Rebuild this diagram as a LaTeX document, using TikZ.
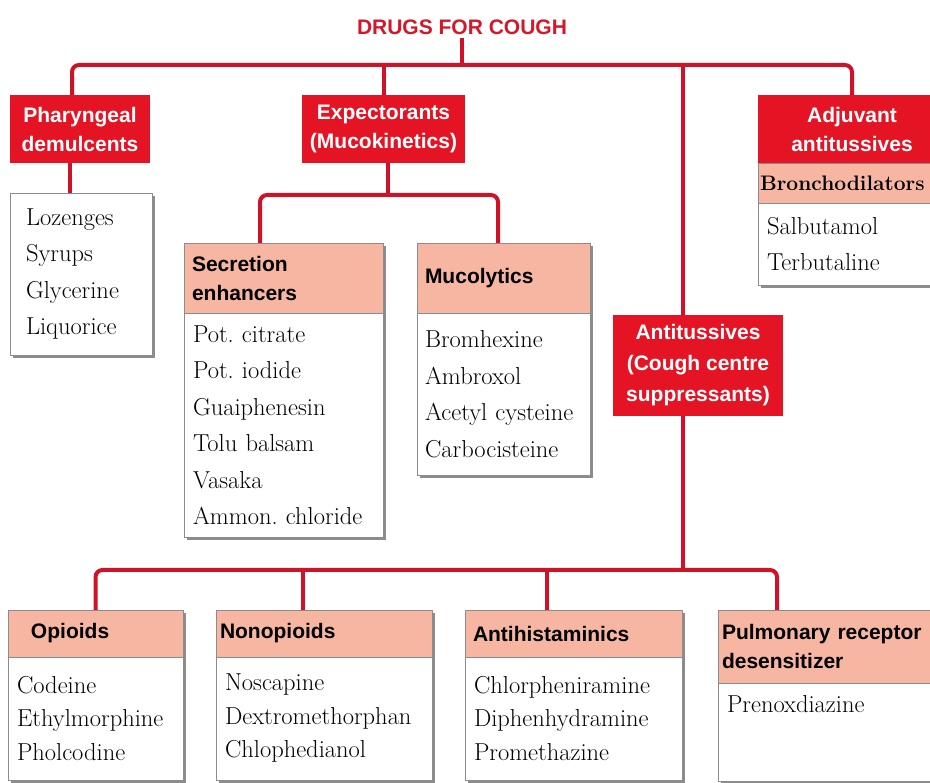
\documentclass[tikz,border=0pt]{standalone}
\usepackage{fontspec}
\setsansfont{Liberation Sans}
\usetikzlibrary{positioning,shadows}
\definecolor{boxred}{RGB}{229,20,36}
\definecolor{linkred}{RGB}{206,18,40}
\definecolor{titlered}{RGB}{212,24,42}
\definecolor{salmon}{RGB}{246,182,162}
\colorlet{rimgray}{black!45}
\newcommand\headfont{\sffamily\bfseries\fontsize{21}{29}\selectfont}
\newcommand\listfont{\rmfamily\frenchspacing\fontsize{24.5}{33.5}\selectfont}
\newcommand\uplistfont{\rmfamily\frenchspacing\fontsize{24.5}{36.5}\selectfont}
\newcommand\titlefont{\sffamily\bfseries\fontsize{21}{25}\selectfont}
\tikzstyle{link}=[line width=4pt,linkred,rounded corners=7pt]
\tikzstyle{redbox}=[anchor=north west,fill=boxred,text=white,font=\headfont,align=center,inner sep=0pt,outer sep=0pt]
\tikzstyle{headbox}=[anchor=north west,fill=salmon,draw=rimgray,line width=0.6pt,font=\headfont,align=left,inner xsep=8pt,inner ysep=0pt,outer sep=0pt,drop shadow={shadow xshift=3pt,shadow yshift=-3pt,fill=black!45,opacity=1}]
\tikzstyle{listbox}=[headbox,fill=white,font=\listfont,inner xsep=9pt]
\tikzstyle{uplist}=[listbox,font=\uplistfont]

\begin{document}
\begin{tikzpicture}[x=1pt,y=-1pt]
  \fill[white] (0,0) rectangle (930,783);
  \useasboundingbox (0,0) rectangle (930,783);
  \coordinate (J1) at (462,65); % TOP BUS
  \coordinate (J2) at (683,65); % ANTITUSSIVE STEM
  \coordinate (J3) at (683,570); % BOTTOM BUS
  \coordinate (J4) at (388,195); % EXPECTORANT BUS
  \coordinate (P1) at (70,180); % DEMULCENT STEM
  \coordinate (S1) at (260,195);
  \coordinate (S2) at (498,195);
  \coordinate (B2) at (303,570);
  \coordinate (B3) at (547,570);
  \coordinate (B4) at (777,570);

  % TITLE
  \node[font=\titlefont,text=titlered] (DC) at (462,27) {DRUGS FOR COUGH};

  % TOP ROW
  \node[redbox,minimum width=140,minimum height=68] (PD) at (10,95) {Pharyngeal\\demulcents};
  \node[redbox,minimum width=163,minimum height=68] (EX) at (302,95) {Expectorants\\(Mucokinetics)};
  \node[redbox,minimum width=188,minimum height=68] (AA) at (758,95) {Adjuvant\\antitussives};
  \node[headbox,font=\rmfamily\bfseries\fontsize{21}{25}\selectfont,inner xsep=2pt,text width=184pt,minimum height=40] (BR) at (758,163) {Bronchodilators};
  \node[uplist,text width=170pt,minimum height=82,below=0pt of BR] (BL) {Salbutamol\\Terbutaline};

  % DEMULCENTS
  \node[uplist,inner xsep=16pt,text width=110pt,minimum height=162] (PL) at (10,193) {Lozenges\\Syrups\\Glycerine\\Liquorice};

  % EXPECTORANTS
  \node[headbox,text width=183pt,minimum height=70] (SE) at (184,243) {Secretion\\enhancers};
  \node[uplist,text width=181pt,minimum height=224,below=0pt of SE] (SL) {Pot.~citrate\\Pot.~iodide\\Guaiphenesin\\Tolu~balsam\\Vasaka\\Ammon.~chloride};
  \node[headbox,text width=157pt,minimum height=70] (MU) at (417,243) {Mucolytics};
  \node[uplist,inner xsep=8pt,text width=157pt,minimum height=162,below=0pt of MU] (ML) {Bromhexine\\Ambroxol\\Acetyl~cysteine\\Carbocisteine};

  % ANTITUSSIVES
  \node[redbox,font={\sffamily\bfseries\fontsize{21}{31}\selectfont},minimum width=170,minimum height=101] (AT) at (613,315) {Antitussives\\(Cough centre\\suppressants)};

  % BOTTOM ROW
  \node[headbox,text width=159pt,minimum height=47] (OP) at (8,610) {\hspace*{15pt}Opioids};
  \node[listbox,text width=157pt,minimum height=123,below=0pt of OP] (OL) {Codeine\\Ethylmorphine\\Pholcodine};
  \node[headbox,inner xsep=4pt,text width=208pt,minimum height=47] (NP) at (216,610) {Nonopioids};
  \node[listbox,text width=198pt,minimum height=123,below=0pt of NP] (NL) {Noscapine\\Dextromethorphan\\Chlophedianol};
  \node[headbox,text width=201pt,minimum height=47] (AH) at (465,610) {Antihistaminics};
  \node[listbox,text width=199pt,minimum height=123,below=0pt of AH] (HL) {Chlorpheniramine\\Diphenhydramine\\Promethazine};
  \node[headbox,inner xsep=4pt,text width=220pt,minimum height=73] (PR) at (718,610) {Pulmonary receptor\\desensitizer};
  \node[listbox,text width=210pt,inner ysep=12pt,text depth=57pt,below=0pt of PR] (RL) {Prenoxdiazine};

  % CONNECTORS
  \draw[link] (DC) -- (J1);
  \draw[link] ([xshift=-8]PD.north) |- (J1) -| (AA.north);
  \draw[link] (EX.north) -- (EX.north |- J1);
  \draw[link] (J2) -- (J2 |- AT.north);
  \draw[link] (P1 |- PD.south) -- (P1 |- PL.north);
  \draw[link] (J4 |- EX.south) -- (J4);
  \draw[link] (S1 |- SE.north) -- (S1) -- (S2) -- (S2 |- MU.north);
  \draw[link] (J2 |- AT.south) -- (J3);
  \draw[link] (OP.north) |- (J3) -| (B4 |- PR.north);
  \draw[link] (B2) -- (B2 |- NP.north);
  \draw[link] (B3) -- (B3 |- AH.north);
\end{tikzpicture}
\end{document}
